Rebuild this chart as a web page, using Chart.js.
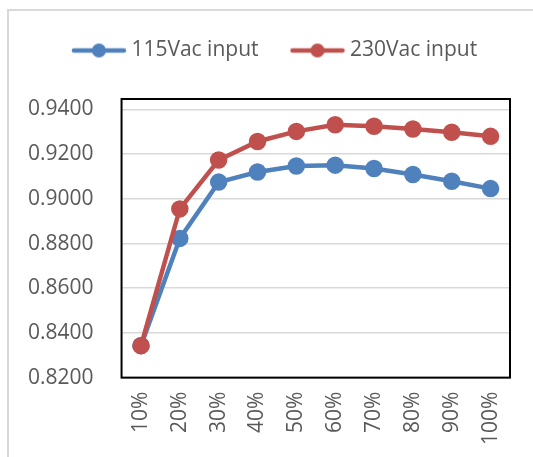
<!DOCTYPE html>
<html>
<head>
<meta charset="utf-8">
<script src="https://cdn.jsdelivr.net/npm/chart.js@4/dist/chart.umd.min.js"></script>
<style>
  body { margin: 0; background: #fff; overflow: hidden; }
  #frame { position: absolute; left: 7px; top: 9px; width: 600px; height: 600px;
           border-left: 2px solid #d9d9d9; border-top: 2px solid #d9d9d9; }
  #wrap { position: absolute; left: 0; top: 0; width: 533px; height: 457px; }
</style>
</head>
<body>
<div id="frame"></div>
<div id="wrap"><canvas id="eff" width="533" height="457"></canvas></div>
<script>
var loads = ['10%','20%','30%','40%','50%','60%','70%','80%','90%','100%']
var eff115 = [0.8343,0.8823,0.9075,0.9120,0.9147,0.9151,0.9136,0.9109,0.9079,0.9046]
var eff230 = [0.8343,0.8955,0.9174,0.9257,0.9302,0.9332,0.9325,0.9313,0.9298,0.9280]
var yTicks = [0.82,0.84,0.86,0.88,0.90,0.92,0.94]

var blue = '#4f81bd'
var red = '#c0504d'

// legend marker: short line with a dot in the middle
function marker(color) {
    var c = document.createElement('canvas')
    c.width = 56; c.height = 18
    var g = c.getContext('2d')
    g.strokeStyle = color; g.lineWidth = 4.5; g.lineCap = 'round'
    g.beginPath(); g.moveTo(3, 9); g.lineTo(53, 9); g.stroke()
    g.fillStyle = color
    g.beginPath(); g.arc(28, 9, 7, 0, Math.PI * 2); g.fill()
    return c
}
var markers = [marker(blue), marker(red)]

// extra gap under the legend, and nudge it to the right
var legendTweak = {
    id: 'legendTweak',
    beforeInit: function (chart) {
        var fit = chart.legend.fit
        chart.legend.fit = function () {
            fit.call(this)
            this.height += 28
        }
    },
    afterUpdate: function (chart) {
        chart.legend.left += 22
        chart.legend.right += 22
    }
}

var boxPlugin = {
    id: 'box',
    afterDatasetsDraw: function (chart) {
        var a = chart.chartArea, ctx = chart.ctx
        ctx.save()
        ctx.strokeStyle = '#000'
        ctx.lineWidth = 2
        ctx.strokeRect(a.left, a.top, a.right - a.left, a.bottom - a.top)
        ctx.restore()
    }
}

var font = { family: '"Open Sans", sans-serif', size: 21 }

var config = {
    type: 'line',
    data: {
        labels: loads,
        datasets: [
            { label: '115Vac input', data: eff115, borderColor: blue, backgroundColor: blue,
              borderWidth: 4.5, pointRadius: 6.5, pointHoverRadius: 6.5, order: 1 },
            { label: '230Vac input', data: eff230, borderColor: red, backgroundColor: red,
              borderWidth: 4.5, pointRadius: 6.5, pointHoverRadius: 6.5, order: 0 }
        ]
    },
    options: {
        responsive: false,
        animation: false,
        layout: { padding: { left: 0, right: 23, top: 3, bottom: -2 } },
        plugins: {
            tooltip: { enabled: false },
            legend: {
                position: 'top',
                labels: {
                    color: '#595959',
                    font: font,
                    usePointStyle: true,
                    pointStyleWidth: 44,
                    boxHeight: 16,
                    padding: 37,
                    generateLabels: function (chart) {
                        return chart.data.datasets.map(function (ds, i) {
                            return { text: ds.label, fillStyle: ds.borderColor, strokeStyle: ds.borderColor,
                                     lineWidth: 0, pointStyle: markers[i], datasetIndex: i, fontColor: '#595959' }
                        })
                    }
                }
            }
        },
        scales: {
            x: {
                offset: true,
                grid: { display: false, drawTicks: false },
                border: { display: false },
                ticks: { color: '#595959', font: font, minRotation: 90, maxRotation: 90, padding: 14 }
            },
            y: {
                min: 0.82,
                max: 0.9447,
                afterBuildTicks: function (axis) {
                    axis.ticks = yTicks.map(function (v) { return { value: v } })
                },
                grid: { color: '#d9d9d9', lineWidth: 1.5, drawTicks: false },
                border: { display: false },
                ticks: { color: '#595959', font: font, padding: 28,
                         callback: function (v) { return Number(v).toFixed(4) } }
            }
        }
    },
    plugins: [legendTweak, boxPlugin]
}
var chart = new Chart(document.getElementById('eff'), config)
</script>
</body>
</html>
